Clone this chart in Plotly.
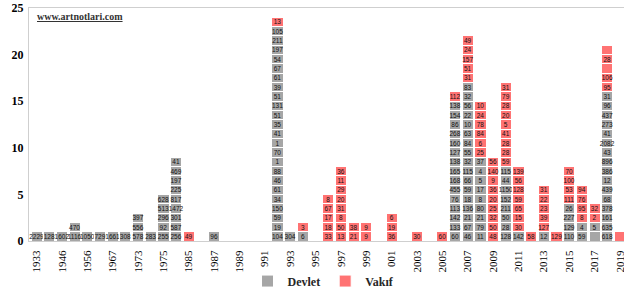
import plotly.graph_objects as go

years = ["1933", "1944", "1946", "1955", "1956", "1957", "1967", "1971", "1973", "1974",
         "1975", "1982"] + [str(y) for y in range(1985, 2020)]

devlet = {
    "1933": ["2229"], "1944": ["128"], "1946": ["1602"], "1955": ["1116", "470"],
    "1956": ["1050"], "1957": ["729"], "1967": ["1661"], "1971": ["308"],
    "1973": ["578", "556", "397"], "1974": ["283"],
    "1975": ["255", "92", "296", "513", "628"],
    "1982": ["256", "587", "301", "1472", "817", "225", "197", "469", "41"],
    "1987": ["96"],
    "1992": ["104", "19", "59", "150", "34", "61", "46", "88", "1", "70", "1", "41", "35",
             "51", "131", "51", "39", "61", "67", "54", "197", "211", "105"],
    "1993": ["304"], "1994": ["6"],
    "2006": ["60", "133", "142", "113", "76", "455", "168", "165", "138", "127", "160",
             "268", "86", "154", "138"],
    "2007": ["46", "67", "21", "136", "18", "59", "66", "115", "32", "55", "84", "63", "10",
             "22", "56", "32", "83"],
    "2008": ["11", "79", "21", "80", "8", "17", "5", "4", "37"],
    "2010": ["128", "28", "50", "211", "152", "1150", "44", "115"],
    "2011": ["142"], "2013": ["12"],
    "2015": ["110", "129", "227", "26"], "2016": ["59", "4"], "2017": ["", "5"],
    "2018": ["618", "635", "161", "378", "68", "439", "12", "386", "896", "43", "2082",
             "41", "273", "437", "96", "31"],
}

vakif = {
    "1985": ["49"], "1992": ["13"], "1994": ["3"],
    "1996": ["33", "18", "17", "67", "8"],
    "1997": ["13", "50", "8", "31", "20", "29", "11", "36"],
    "1998": ["21", "38"], "1999": ["9", "9"], "2001": ["36", "19", "6"],
    "2003": ["30"], "2005": ["60"], "2006": ["112"],
    "2007": ["31", "51", "157", "24", "49"],
    "2008": ["25", "6", "84", "78", "24", "10"],
    "2009": ["48", "50", "32", "25", "20", "36", "9", "140", "56"],
    "2010": ["59", "28", "28", "41", "5", "20", "28", "79", "31"],
    "2011": ["30", "15", "65", "59", "128", "56", "139"],
    "2012": ["58"], "2013": ["127", "39", "23", "22", "31"], "2014": ["129"],
    "2015": ["111", "53", "100", "70"], "2016": ["8", "95", "76", "94"],
    "2017": ["2", "32"], "2018": ["95", "106", "", "28", ""], "2019": [""],
}

tick_years = years[::2]

GRAY = "#A6A6A6"
RED = "#FF7373"
SERIF = "Liberation Serif"

fig = go.Figure()


def add_layers(data, name, color):
    depth = max(len(v) for v in data.values())
    for k in range(depth):
        xs, ys, ts = [], [], []
        for y in years:
            segs = data.get(y, [])
            if len(segs) > k:
                xs.append(y)
                ys.append(1)
                ts.append(segs[k])
        fig.add_trace(go.Bar(
            x=xs, y=ys, text=ts, name=name, legendgroup=name, showlegend=(k == 0),
            marker=dict(color=color, line=dict(color="white", width=1)),
            textposition="inside", insidetextanchor="middle", textangle=0,
            textfont=dict(size=6.5, color="#111111", family="Liberation Sans"),
            hoverinfo="skip",
        ))


add_layers(devlet, "Devlet", GRAY)
add_layers(vakif, "Vakıf", RED)

fig.update_layout(
    width=624, height=292,
    margin=dict(l=29, r=0, t=8, b=51, autoexpand=False),
    barmode="stack", bargap=0.12,
    plot_bgcolor="white", paper_bgcolor="white",
    uniformtext=dict(minsize=6.5, mode="show"),
    showlegend=True,
    legend=dict(orientation="h", x=0.495, xanchor="center", y=-0.172, yanchor="middle",
                font=dict(family=SERIF, size=12, color="#262626", weight="bold"),
                itemwidth=30, traceorder="normal"),
    xaxis=dict(type="category", categoryorder="array", categoryarray=years,
               range=[-0.6, 46.32], tickmode="array", tickvals=tick_years,
               ticktext=tick_years, tickangle=-90, automargin=False,
               tickfont=dict(family=SERIF, size=11, color="#000000"),
               showline=True, linecolor="#CFCFCF", mirror=True, showgrid=False,
               ticks="outside", ticklen=4, tickcolor="rgba(0,0,0,0)"),
    yaxis=dict(range=[0, 25], tickvals=[0, 5, 10, 15, 20, 25], automargin=False,
               tickfont=dict(family=SERIF, size=12, color="#000000", weight="bold"),
               showline=True, linecolor="#CFCFCF", mirror=True, showgrid=False,
               zeroline=False, ticks="outside", ticklen=2, tickcolor="rgba(0,0,0,0)"),
    annotations=[dict(text="<b><u>www.artnotlari.com</u></b>", xref="paper", yref="paper",
                      x=0.01, y=0.965, xanchor="left", yanchor="middle", showarrow=False,
                      font=dict(family=SERIF, size=10, color="#333333"))],
)

fig.write_html("out.html", config={"displayModeBar": False},
               post_script="document.body.style.margin='0';document.body.style.overflow='hidden';")
